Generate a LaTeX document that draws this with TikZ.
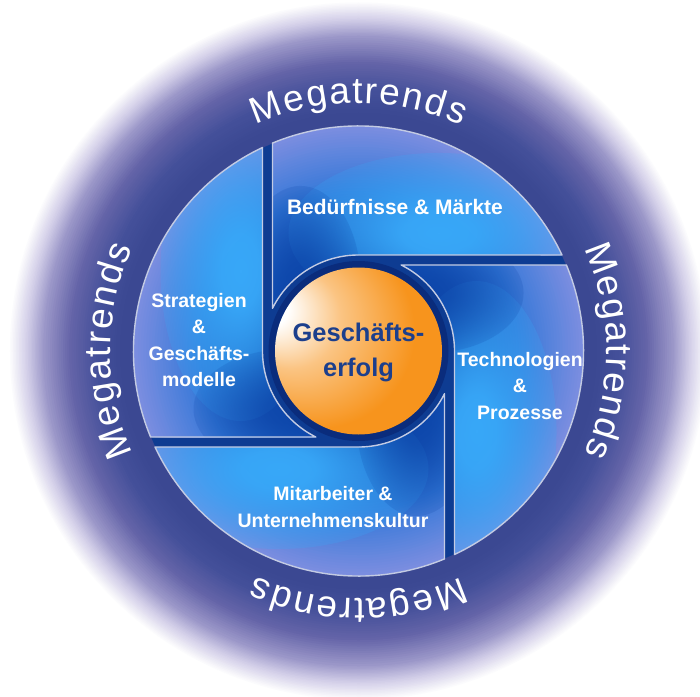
\documentclass[tikz,border=0pt]{standalone}
\usepackage{fontspec}
\setmainfont{Liberation Sans}
\usetikzlibrary{fadings}

% palette
\definecolor{ringdark}{HTML}{3B4892}
\definecolor{ringdarkb}{HTML}{44509A}
\definecolor{ringmid}{HTML}{6464A8}
\definecolor{ringlight}{HTML}{9A96C8}
\definecolor{ringpale}{HTML}{D2CEE8}
\definecolor{segdark}{HTML}{1250B4}
\definecolor{segdeep}{HTML}{0C44A8}
\definecolor{segmid}{HTML}{3278D8}
\definecolor{seglav}{HTML}{7C8EE0}
\definecolor{segbright}{HTML}{38A8F8}
\definecolor{gapblue}{HTML}{0E3C92}
\definecolor{corering}{HTML}{0A2C7C}
\definecolor{segborder}{HTML}{C3CBE3}
\definecolor{ballorange}{HTML}{F7941D}
\definecolor{coretext}{HTML}{1C3F8C}

% orange core with a white highlight on the upper left
\pgfdeclareradialshading{orangeball}{\pgfpoint{-29bp}{14bp}}{%
  color(0bp)=(white); color(5bp)=(white); color(15bp)=(ballorange!55!white);
  color(29bp)=(ballorange); color(50bp)=(ballorange)}

% soft spot of light (or shade) inside each quadrant
\pgfdeclareradialshading{softspotshade}{\pgfpointorigin}{%
  color(0bp)=(pgftransparent!0); color(6bp)=(pgftransparent!5);
  color(31bp)=(pgftransparent!100); color(50bp)=(pgftransparent!100)}
\pgfdeclarefading{softspot}{\pgfuseshading{softspotshade}}

% one quadrant of the pinwheel (upper one); the others are rotations
\newcommand\segpath{(-86,207.92) -- (-86,42.66)
  arc[start angle=153.62, end angle=90, radius=96] -- (203.49,96)
  arc[start angle=25.25, end angle=112.47, radius=225] -- cycle}

\tikzset{
  segline/.style={draw=segborder, line width=1.4pt, line join=round},
  seglabel/.style={text=white, align=center,
    font=\bfseries\fontsize{19.5}{26.5}\selectfont},
  corelabel/.style={text=coretext, align=center,
    font=\bfseries\fontsize{25.5}{35}\selectfont},
  megaletter/.style={text=white, anchor=base, inner sep=0pt,
    font=\fontsize{37}{37}\selectfont}
}

\begin{document}
\begin{tikzpicture}[x=1pt,y=1pt]
  \useasboundingbox (-358.5,-345) rectangle (341.5,351);
  \fill[white] (-358.5,-345) rectangle (341.5,351);

  % halo: concentric bands from white at the edge to dark navy
  \foreach \ra/\rb/\ci/\co in {332/350/ringpale/white,
      315/332/ringlight/ringpale, 289/315/ringmid/ringlight,
      262/289/ringdarkb/ringmid, 238/262/ringdark/ringdarkb}{
    \foreach \k in {0,...,12}{
      \pgfmathsetmacro\rr{\rb-(\rb-\ra)*\k/12}
      \pgfmathsetmacro\pp{100*\k/12}
      \fill[\ci!\pp!\co] (0,0) circle (\rr);
    }
  }

  % dark disk that shows through the gaps
  \fill[gapblue] (0,0) circle (224.5);

  % core
  \fill[corering] (0,0) circle (90);
  \shade[shading=orangeball] (0,0) circle (83.5);

  % four quadrants
  \foreach \rot in {0,-90,180,90}{
    \begin{scope}[rotate=\rot]
      \begin{scope}
        \clip \segpath;
        \foreach \ra/\rb/\ci/\co in {160/226/segmid/seglav,
            96/160/segdark/segmid}{
          \foreach \k in {0,...,24}{
            \pgfmathsetmacro\rr{\rb-(\rb-\ra)*\k/24}
            \pgfmathsetmacro\pp{100*\k/24}
            \fill[\ci!\pp!\co] (0,0) circle (\rr);
          }
        }
        \fill[segbright, path fading=softspot]
          (80,118) ellipse [x radius=150, y radius=80];
        \fill[segdeep, path fading=softspot, fill opacity=0.75]
          (-58,70) ellipse [x radius=60, y radius=95];
      \end{scope}
      \path[segline] \segpath;
    \end{scope}
  }

  % labels
  \node[corelabel] (core) at (0,-1.5) {Geschäfts-\\erfolg};
  \node[seglabel, font=\bfseries\fontsize{21}{26.5}\selectfont] (needs)
    at (36.5,144) {Bedürfnisse \& Märkte};
  \node[seglabel] (tech) at (161.5,-35) {Technologien\\\&\\Prozesse};
  \node[seglabel] (staff) at (-25.5,-156) {Mitarbeiter \&\\Unternehmenskultur};
  \node[seglabel] (strat) at (-159.5,11) {Strategien\\\&\\Geschäfts-\\modelle};

  % ring lettering, one letter at a time, read clockwise
  \foreach \th in {90,0,-90,180}{
    \foreach \ch/\w [count=\i, remember=\cum as \prev (initially 0),
        evaluate=\w as \cum using \prev+\w*37+1.8]
        in {M/.833,e/.556,g/.556,a/.556,t/.278,r/.333,e/.556,n/.556,d/.556,s/.5}{
      \pgfmathsetmacro\ang{\th+(105.8-(\cum-1.8-\w*18.5))/248*180/pi}
      \node[megaletter, rotate=\ang-90] (mega\th-\i) at (\ang:248) {\ch};
    }
  }
\end{tikzpicture}
\end{document}
